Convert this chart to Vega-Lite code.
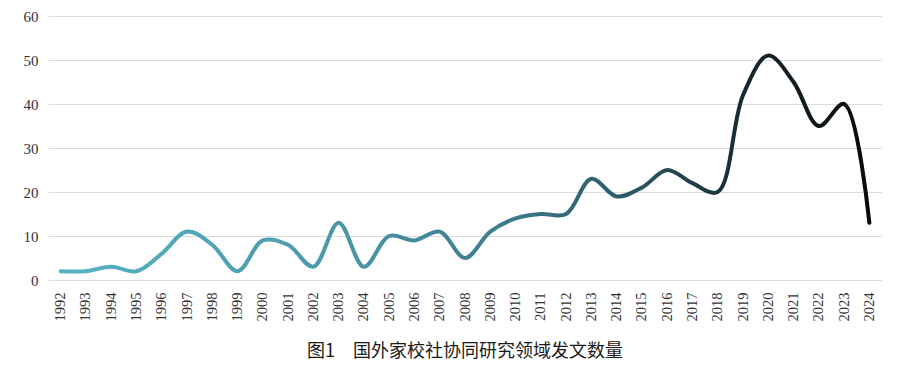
{
  "$schema": "https://vega.github.io/schema/vega-lite/v6.json",
  "width": 834,
  "height": 264,
  "autosize": {"type": "none"},
  "padding": {"left": 48, "top": 16, "right": 25, "bottom": 98},
  "background": "white",
  "title": {
    "text": "图1　国外家校社协同研究领域发文数量",
    "orient": "bottom",
    "anchor": "middle",
    "font": "Noto Sans CJK SC",
    "fontSize": 18,
    "fontWeight": "normal",
    "color": "#1a1a1a",
    "offset": 22
  },
  "data": {
    "values": [
      {"year": "1992", "count": 2},
      {"year": "1993", "count": 2},
      {"year": "1994", "count": 3},
      {"year": "1995", "count": 2},
      {"year": "1996", "count": 6},
      {"year": "1997", "count": 11},
      {"year": "1998", "count": 8},
      {"year": "1999", "count": 2},
      {"year": "2000", "count": 9},
      {"year": "2001", "count": 8},
      {"year": "2002", "count": 3},
      {"year": "2003", "count": 13},
      {"year": "2004", "count": 3},
      {"year": "2005", "count": 10},
      {"year": "2006", "count": 9},
      {"year": "2007", "count": 11},
      {"year": "2008", "count": 5},
      {"year": "2009", "count": 11},
      {"year": "2010", "count": 14},
      {"year": "2011", "count": 15},
      {"year": "2012", "count": 15},
      {"year": "2013", "count": 23},
      {"year": "2014", "count": 19},
      {"year": "2015", "count": 21},
      {"year": "2016", "count": 25},
      {"year": "2017", "count": 22},
      {"year": "2018", "count": 20},
      {"year": "2019", "count": 42},
      {"year": "2020", "count": 51},
      {"year": "2021", "count": 45},
      {"year": "2022", "count": 35},
      {"year": "2023", "count": 40},
      {"year": "2024", "count": 13}
    ]
  },
  "mark": {
    "type": "line",
    "interpolate": "catmull-rom",
    "strokeWidth": 4,
    "strokeCap": "round",
    "strokeJoin": "round",
    "color": {
      "gradient": "linear",
      "x1": 0, "y1": 0, "x2": 1, "y2": 0,
      "stops": [
        {"offset": 0, "color": "#56B2C4"},
        {"offset": 0.35, "color": "#4A97A8"},
        {"offset": 0.55, "color": "#3C7B8B"},
        {"offset": 0.7, "color": "#2C5A68"},
        {"offset": 0.85, "color": "#16282F"},
        {"offset": 1, "color": "#0A0A0A"}
      ]
    }
  },
  "encoding": {
    "x": {
      "field": "year",
      "type": "ordinal",
      "scale": {"type": "point", "padding": 0.5},
      "axis": {
        "title": null,
        "labelAngle": -90,
        "labelFont": "Liberation Serif",
        "labelFontSize": 14.5,
        "labelColor": "#333",
        "labelPadding": 12,
        "ticks": false,
        "domain": false,
        "grid": false
      }
    },
    "y": {
      "field": "count",
      "type": "quantitative",
      "scale": {"domain": [0, 60]},
      "axis": {
        "title": null,
        "values": [0, 10, 20, 30, 40, 50, 60],
        "labelFont": "Liberation Serif",
        "labelFontSize": 15,
        "labelColor": "#333",
        "labelPadding": 10,
        "ticks": false,
        "domain": false,
        "grid": true,
        "gridColor": "#DCDCDC",
        "gridWidth": 1.2
      }
    }
  },
  "config": {"view": {"stroke": null}}
}
